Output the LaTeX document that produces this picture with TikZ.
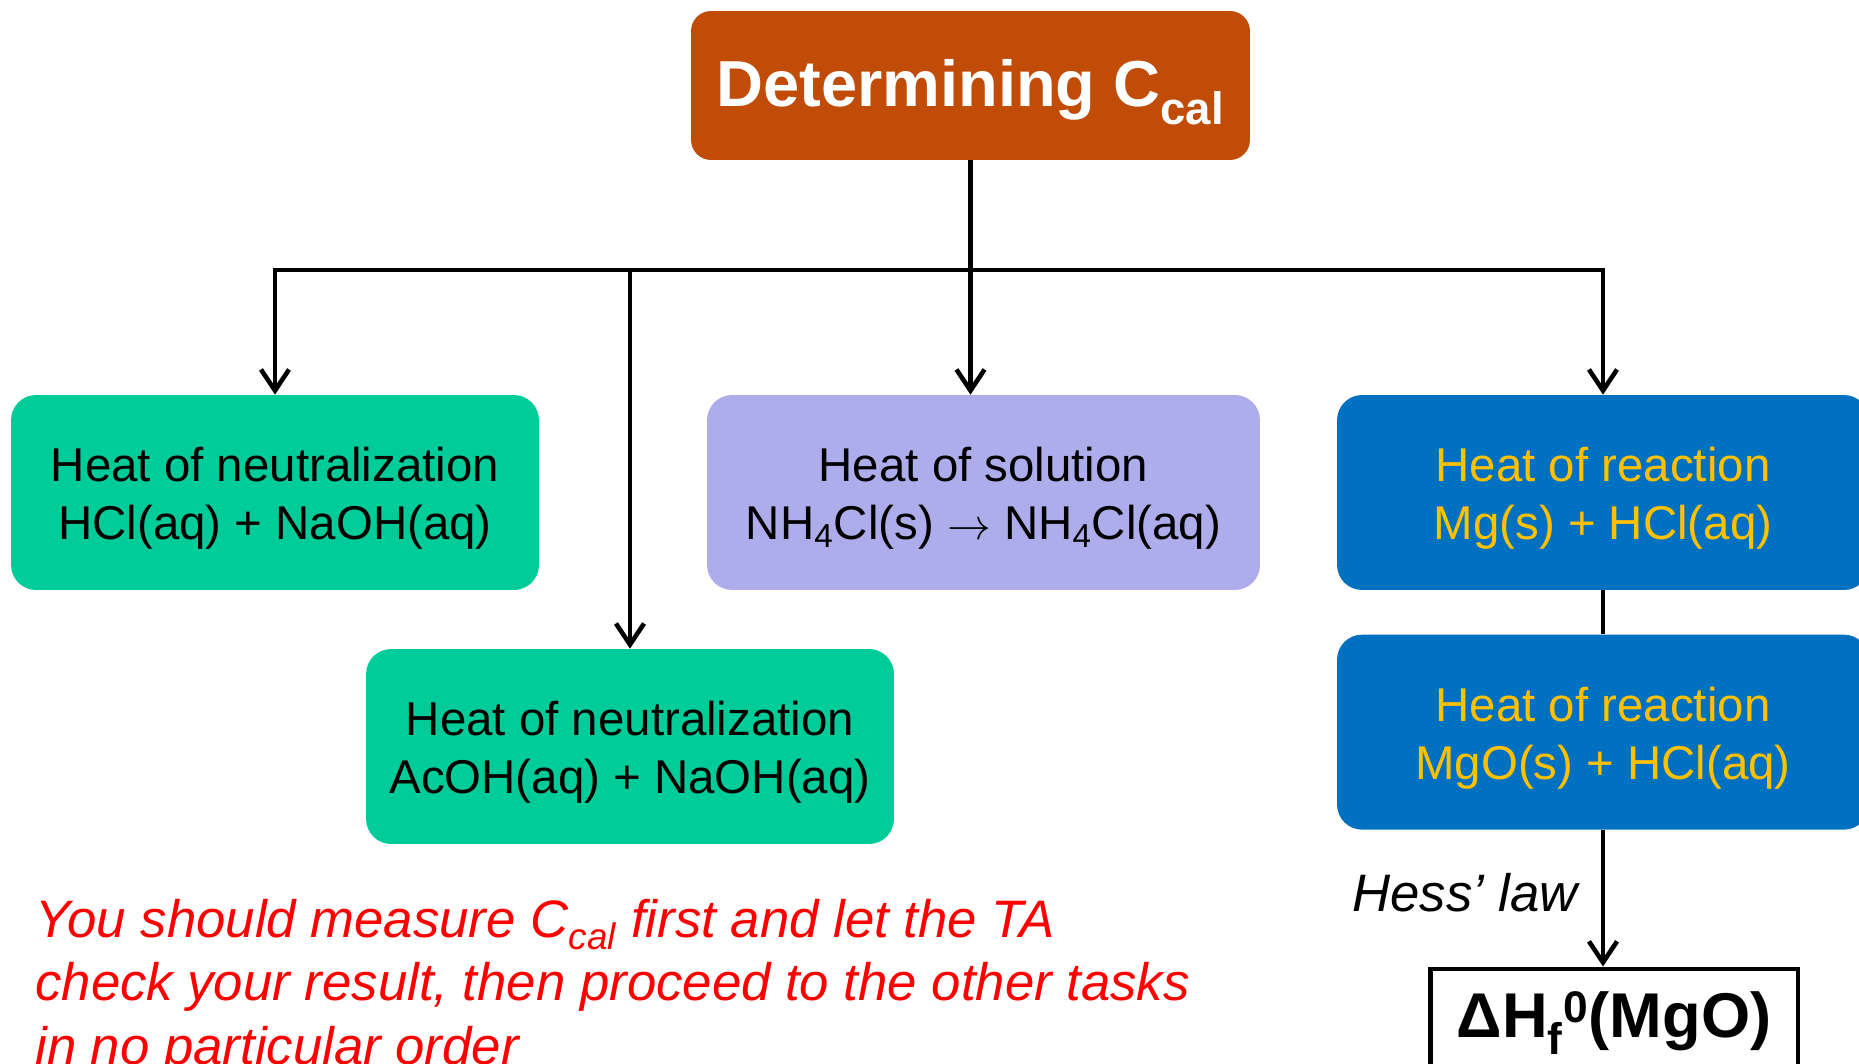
\documentclass[tikz,border=0pt]{standalone}
\usepackage{fontspec}
\setmainfont{Liberation Sans}
\usepackage{tikz}
\usetikzlibrary{arrows.meta, positioning}

\definecolor{calorange}{RGB}{192,76,8}
\definecolor{neutgreen}{RGB}{0,204,153}
\definecolor{solnlilac}{RGB}{173,173,235}
\definecolor{reactblue}{RGB}{0,112,192}
\definecolor{reactgold}{RGB}{255,192,0}
\definecolor{notered}{RGB}{255,0,0}

% pushes the first text line a little lower in the boxes
\newcommand{\padtop}{\rule{0pt}{26.5pt}}

\begin{document}
\begin{tikzpicture}[x=0.02cm, y=-0.02cm,
        header/.style={rectangle, rounded corners=0.4cm, fill=calorange, text=white, minimum width=11.18cm, minimum height=2.98cm, align=center, font=\bfseries\fontsize{37}{44}\selectfont, execute at begin node={\rule{0pt}{34pt}}},
        task/.style={rectangle, rounded corners=0.5cm, minimum width=10.56cm, minimum height=3.9cm, align=center, font=\fontsize{27}{33}\selectfont},
        neutral/.style={task, fill=neutgreen},
        dissolve/.style={task, fill=solnlilac, minimum width=11.06cm},
        reaction/.style={task, fill=reactblue, text=reactgold, minimum width=10.64cm},
        result/.style={draw, rectangle, line width=2.8pt, minimum width=7.36cm, minimum height=2.16cm, align=center, font=\bfseries\fontsize{36}{43}\selectfont},
        link/.style={line width=2.6pt},
        arrow/.style={link, -{Straight Barb[length=12pt, width=16pt]}}
    ]
        \useasboundingbox (0,0) rectangle (1859,1064);

        \node[header] (ccal) at (970.5,85.5) {Determining C\textsubscript{cal}};
        \node[neutral] (neut1) at (275,492.5) {\padtop Heat of neutralization\\HCl(aq) + NaOH(aq)};
        \node[neutral] (neut2) at (630,746.5) {\padtop Heat of neutralization\\AcOH(aq) + NaOH(aq)};
        \node[dissolve] (soln) at (983.5,492.5) {\padtop Heat of solution\\NH\textsubscript{4}Cl(s) $\rightarrow$ NH\textsubscript{4}Cl(aq)};
        \node[reaction] (mg) at (1603,492.5) {\padtop Heat of reaction\\Mg(s) + HCl(aq)};
        \node[reaction, below=0.88cm of mg] (mgo) {\padtop Heat of reaction\\MgO(s) + HCl(aq)};
        \node[result] (dhf) at (1614,1023) {ΔH\textsubscript{f}\textsuperscript{0}(MgO)};

        \node[anchor=north west, inner sep=0pt, align=left, text=notered, font=\itshape\fontsize{30}{36}\selectfont] (note) at (35,899)
            {You should measure C\textsubscript{cal} first and let the TA\\check your result, then proceed to the other tasks\\in no particular order};

        \coordinate (bus) at (ccal.south |- 0,270);
        \draw[link, line cap=rect] (bus -| neut1.north) -- (bus -| mg.north);
        \draw[arrow] (ccal.south) -- (ccal.south |- soln.north);
        \foreach \target in {neut1, neut2, mg}
            \draw[arrow] (bus -| \target.north) -- (\target.north);

        \draw[link] (mg.south) -- (mgo.north);
        \draw[arrow] (mgo.south) -- node[midway, anchor=east, inner sep=0pt, xshift=-13pt, yshift=3pt, font=\itshape\fontsize{30}{36}\selectfont] {Hess’ law} (mgo.south |- dhf.north);
    \end{tikzpicture}
\end{document}
